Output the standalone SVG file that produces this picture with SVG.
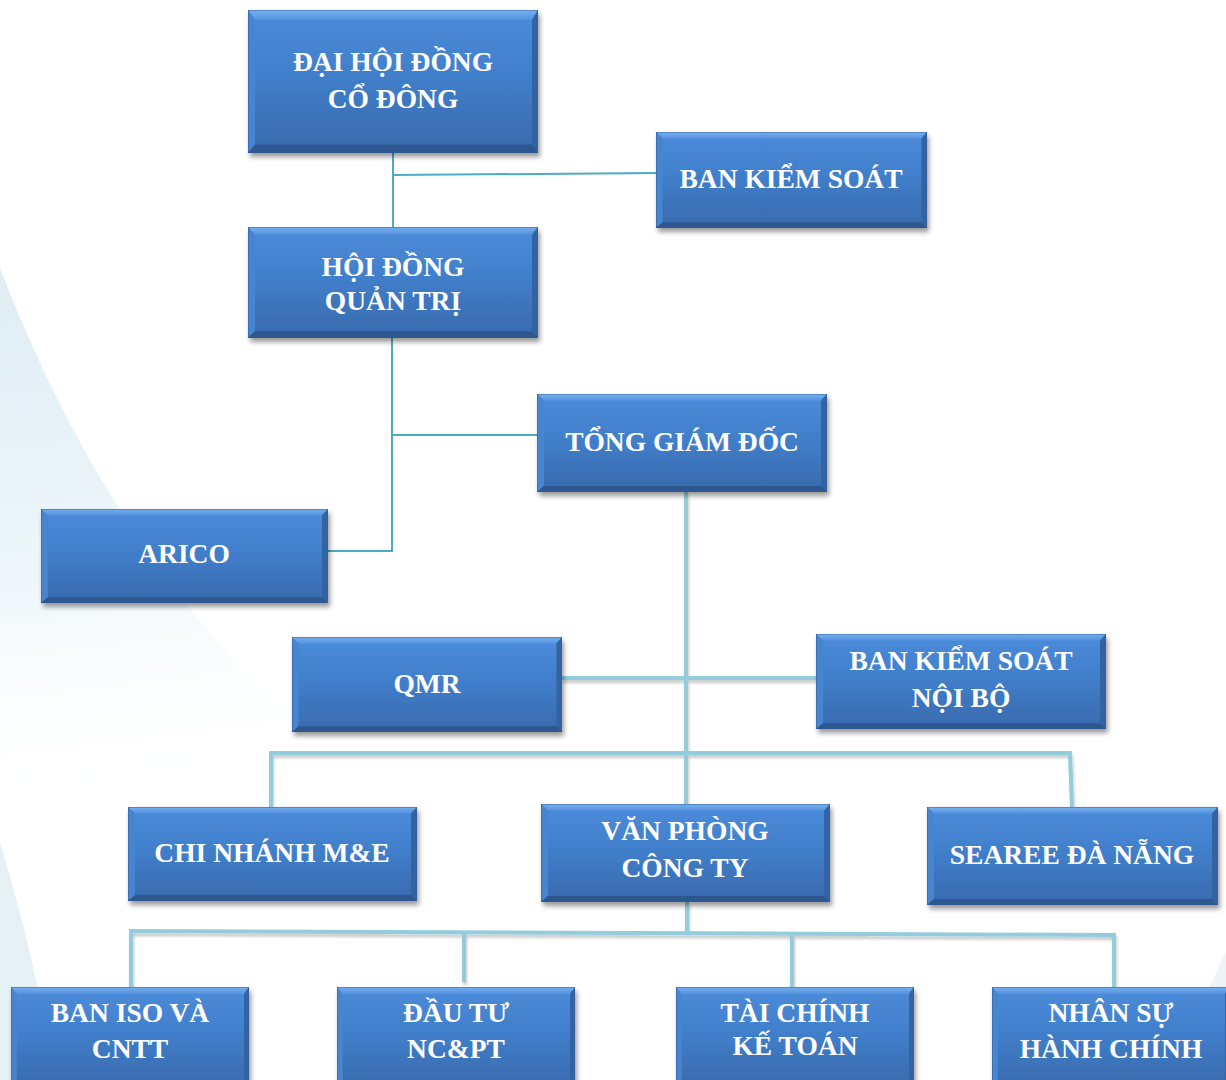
<svg xmlns="http://www.w3.org/2000/svg" xmlns:xlink="http://www.w3.org/1999/xlink" width="1226" height="1080" viewBox="0 0 1226 1080">
<defs>
  <linearGradient id="bg1" gradientUnits="userSpaceOnUse" x1="0" y1="300" x2="60" y2="800">
    <stop offset="0" stop-color="#e0eef4"/>
    <stop offset="0.55" stop-color="#eef6f9"/>
    <stop offset="1" stop-color="#ffffff" stop-opacity="0"/>
  </linearGradient>
  <linearGradient id="body" x1="0" y1="0" x2="0" y2="1">
    <stop offset="0" stop-color="#4c8cda"/>
    <stop offset="0.45" stop-color="#417fcb"/>
    <stop offset="1" stop-color="#386aad"/>
  </linearGradient>
  <linearGradient id="topb" x1="0" y1="0" x2="0" y2="1">
    <stop offset="0" stop-color="#78b0ee"/>
    <stop offset="1" stop-color="#5392df"/>
  </linearGradient>
  <filter id="shadow" x="-10%" y="-10%" width="125%" height="130%">
    <feGaussianBlur in="SourceAlpha" stdDeviation="2.5"/>
    <feOffset dx="2" dy="4" result="b"/>
    <feComponentTransfer><feFuncA type="linear" slope="0.4"/></feComponentTransfer>
    <feMerge><feMergeNode/><feMergeNode in="SourceGraphic"/></feMerge>
  </filter>
  <filter id="lshadow" x="-5%" y="-50%" width="110%" height="200%">
    <feGaussianBlur in="SourceAlpha" stdDeviation="1.5"/>
    <feOffset dx="1" dy="3"/>
    <feComponentTransfer><feFuncA type="linear" slope="0.22"/></feComponentTransfer>
    <feMerge><feMergeNode/><feMergeNode in="SourceGraphic"/></feMerge>
  </filter>
  <symbol id="box" viewBox="0 0 290 100" preserveAspectRatio="none">
    <rect x="0" y="0" width="290" height="100" fill="url(#body)"/>
    <polygon points="0,0 290,0 283,7 7,7" fill="url(#topb)"/>
    <polygon points="0,0 7,7 7,94 0,100" fill="#4785d1"/>
    <polygon points="290,0 290,100 284,94 284,7" fill="#3363a3"/>
    <polygon points="0,100 7,94 284,94 290,100" fill="#2e568f"/>
    <rect x="0" y="0" width="290" height="100" fill="none" stroke="#2f5d99" stroke-width="1" vector-effect="non-scaling-stroke"/>
  </symbol>
</defs>
<style>
  .t { fill: #ffffff; font-family: "Liberation Serif", "Times New Roman", serif; font-weight: bold; font-size: 27.5px; text-anchor: middle; }
  .thin { fill: none; stroke: #4bacc6; stroke-width: 2; }
  .thick { fill: none; stroke: #93cddd; stroke-width: 4; }
</style>
<rect width="1226" height="1080" fill="#ffffff"/>
<g id="background">
  <path d="M0,268 C70,450 160,590 285,715 C200,760 100,805 0,840 Z" fill="url(#bg1)"/>
  <path d="M0,842 C18,905 35,960 55,1080 L0,1080 Z" fill="#e6f1f6"/>
  <path d="M1208,990 L1226,952 L1226,990 Z" fill="#edf5f9"/>
</g>
<g id="connectors">
  <g class="thin">
    <path d="M393,153 V227"/>
    <path d="M393,175 L656,173"/>
    <path d="M392,338 V551 H328"/>
    <path d="M392,435 H537"/>
  </g>
  <g class="thick" filter="url(#lshadow)">
    <path d="M686,492 V804"/>
    <path d="M562,678 H816"/>
    <path d="M271,807 V753 H1070 L1072,807"/>
    <path d="M687,902 V932"/>
    <path d="M131,987 V931 L1114,935 V987"/>
    <path d="M464,932 V982"/>
    <path d="M792,933 V987"/>
  </g>
</g>
<g id="n1"><use href="#box" x="248" y="10" width="290" height="143" filter="url(#shadow)"/><text class="t" x="393" y="71">ĐẠI HỘI ĐỒNG</text><text class="t" x="393" y="108">CỔ ĐÔNG</text></g>
<g id="n2"><use href="#box" x="656" y="132" width="271" height="96" filter="url(#shadow)"/><text class="t" x="791" y="188">BAN KIỂM SOÁT</text></g>
<g id="n3"><use href="#box" x="248" y="227" width="290" height="111" filter="url(#shadow)"/><text class="t" x="393" y="276">HỘI ĐỒNG</text><text class="t" x="393" y="310">QUẢN TRỊ</text></g>
<g id="n4"><use href="#box" x="537" y="394" width="290" height="98" filter="url(#shadow)"/><text class="t" x="682" y="451">TỔNG GIÁM ĐỐC</text></g>
<g id="n5"><use href="#box" x="41" y="509" width="287" height="94" filter="url(#shadow)"/><text class="t" x="184" y="563">ARICO</text></g>
<g id="n6"><use href="#box" x="292" y="637" width="270" height="95" filter="url(#shadow)"/><text class="t" x="427" y="693">QMR</text></g>
<g id="n7"><use href="#box" x="816" y="634" width="290" height="95" filter="url(#shadow)"/><text class="t" x="961" y="670">BAN KIỂM SOÁT</text><text class="t" x="961" y="707">NỘI BỘ</text></g>
<g id="n8"><use href="#box" x="128" y="807" width="289" height="94" filter="url(#shadow)"/><text class="t" x="272" y="862">CHI NHÁNH M&amp;E</text></g>
<g id="n9"><use href="#box" x="541" y="804" width="289" height="98" filter="url(#shadow)"/><text class="t" x="685" y="840">VĂN PHÒNG</text><text class="t" x="685" y="877">CÔNG TY</text></g>
<g id="n10"><use href="#box" x="927" y="807" width="291" height="98" filter="url(#shadow)"/><text class="t" x="1072" y="864">SEAREE ĐÀ NẴNG</text></g>
<g id="n11"><use href="#box" x="11" y="987" width="238" height="100" filter="url(#shadow)"/><text class="t" x="130" y="1022">BAN ISO VÀ</text><text class="t" x="130" y="1058">CNTT</text></g>
<g id="n12"><use href="#box" x="337" y="987" width="238" height="100" filter="url(#shadow)"/><text class="t" x="456" y="1022">ĐẦU TƯ</text><text class="t" x="456" y="1058">NC&amp;PT</text></g>
<g id="n13"><use href="#box" x="676" y="987" width="238" height="100" filter="url(#shadow)"/><text class="t" x="795" y="1022">TÀI CHÍNH</text><text class="t" x="795" y="1055">KẾ TOÁN</text></g>
<g id="n14"><use href="#box" x="992" y="987" width="238" height="100" filter="url(#shadow)"/><text class="t" x="1111" y="1022">NHÂN SỰ</text><text class="t" x="1111" y="1058">HÀNH CHÍNH</text></g>
</svg>
